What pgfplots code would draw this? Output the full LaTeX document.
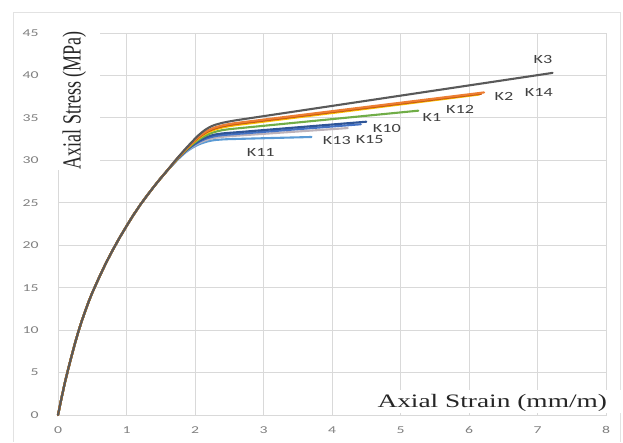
\documentclass[border=0pt]{standalone}
\usepackage{fontspec}
\setmainfont{Carlito}
\newfontfamily\timesf{Liberation Serif}
\usepackage{graphicx}
\usepackage{pgfplots}
\pgfplotsset{compat=1.18}
\definecolor{gridc}{HTML}{D9D9D9}
\definecolor{framec}{HTML}{E2E2E2}
\definecolor{tickc}{HTML}{7F7F7F}
\definecolor{labc}{HTML}{404040}
\definecolor{cK1}{HTML}{70AD47}
\definecolor{cK2}{HTML}{ED7D31}
\definecolor{cK3}{HTML}{595959}
\definecolor{cK10}{HTML}{2F5597}
\definecolor{cK11}{HTML}{5B9BD5}
\definecolor{cK12}{HTML}{C55A11}
\definecolor{cK13}{HTML}{BDB3BA}
\definecolor{cK14}{HTML}{FFC000}
\definecolor{cK15}{HTML}{4472C4}
\begin{document}
\begin{tikzpicture}
\useasboundingbox (0,0) rectangle (623pt,442pt);
\draw[framec, line width=0.6pt] (13pt,0pt) -- (13pt,430pt) -- (620pt,430pt) -- (620pt,0pt);
\begin{axis}[
  at={(58pt,27pt)}, anchor=south west, scale only axis,
  width=548pt, height=382pt,
  xmin=0, xmax=8, ymin=0, ymax=45,
  xtick={0,1,...,8}, ytick={0,5,...,45},
  grid=major,
  major grid style={gridc, line width=0.8pt},
  axis line style={gridc, line width=0.8pt},
  tick style={draw=none},
  /pgf/number format/assume math mode=true,
  tick label style={font=\fontsize{10.5}{10.5}\selectfont, text=tickc, xscale=1.5},
  yticklabel shift=14pt,
  xticklabel shift=8pt,
  clip=false,
  every axis plot post/.append style={line width=2.1pt, mark=none, line join=round, line cap=round},
]
\fill[white] (axis cs:-0.12,28.9) rectangle (axis cs:0.62,45.6);
\fill[white] (axis cs:4.35,0.25) rectangle (axis cs:8.3,3.0);

\addplot[cK11] coordinates {(0,0)(0.05,1.95)(0.1,3.8)(0.15,5.45)(0.2,7.0)(0.25,8.5)(0.3,9.9)(0.35,11.15)(0.4,12.3)(0.45,13.4)(0.5,14.4)(0.6,16.2)(0.7,17.9)(0.8,19.45)(0.9,20.9)(1.0,22.25)(1.1,23.55)(1.2,24.75)(1.3,25.85)(1.4,26.9)(1.5,27.9)(1.6,28.85)
 (1.7,29.7)(1.75,30.12)(1.8,30.5)(1.85,30.85)(1.9,31.16)(1.95,31.43)(2.0,31.66)(2.05,31.86)(2.1,32.02)(2.15,32.15)(2.2,32.26)(2.25,32.34)(2.3,32.4)(2.4,32.46)(2.5,32.5)(2.6,32.52)(3.7,32.75)};
\addplot[cK13] coordinates {(0,0)(0.05,1.95)(0.1,3.8)(0.15,5.45)(0.2,7.0)(0.25,8.5)(0.3,9.9)(0.35,11.15)(0.4,12.3)(0.45,13.4)(0.5,14.4)(0.6,16.2)(0.7,17.9)(0.8,19.45)(0.9,20.9)(1.0,22.25)(1.1,23.55)(1.2,24.75)(1.3,25.85)(1.4,26.9)(1.5,27.9)(1.6,28.85)
 (1.7,29.72)(1.75,30.15)(1.8,30.55)(1.85,30.91)(1.9,31.24)(1.95,31.53)(2.0,31.78)(2.05,32.0)(2.1,32.19)(2.15,32.35)(2.2,32.48)(2.25,32.58)(2.3,32.66)(2.4,32.77)(2.5,32.84)(2.6,32.9)(4.23,33.8)};
\addplot[cK15] coordinates {(0,0)(0.05,1.95)(0.1,3.8)(0.15,5.45)(0.2,7.0)(0.25,8.5)(0.3,9.9)(0.35,11.15)(0.4,12.3)(0.45,13.4)(0.5,14.4)(0.6,16.2)(0.7,17.9)(0.8,19.45)(0.9,20.9)(1.0,22.25)(1.1,23.55)(1.2,24.75)(1.3,25.85)(1.4,26.9)(1.5,27.9)(1.6,28.85)
 (1.7,29.74)(1.75,30.18)(1.8,30.59)(1.85,30.97)(1.9,31.31)(1.95,31.62)(2.0,31.89)(2.05,32.13)(2.1,32.34)(2.15,32.52)(2.2,32.66)(2.25,32.77)(2.3,32.86)(2.4,32.97)(2.5,33.04)(2.6,33.1)(4.42,34.25)};
\addplot[cK10] coordinates {(0,0)(0.05,1.95)(0.1,3.8)(0.15,5.45)(0.2,7.0)(0.25,8.5)(0.3,9.9)(0.35,11.15)(0.4,12.3)(0.45,13.4)(0.5,14.4)(0.6,16.2)(0.7,17.9)(0.8,19.45)(0.9,20.9)(1.0,22.25)(1.1,23.55)(1.2,24.75)(1.3,25.85)(1.4,26.9)(1.5,27.9)(1.6,28.85)
 (1.7,29.76)(1.75,30.21)(1.8,30.63)(1.85,31.02)(1.9,31.37)(1.95,31.69)(2.0,31.98)(2.05,32.24)(2.1,32.47)(2.15,32.66)(2.2,32.82)(2.25,32.95)(2.3,33.05)(2.4,33.17)(2.5,33.24)(2.6,33.3)(4.5,34.55)};
\addplot[cK1] coordinates {(0,0)(0.05,1.95)(0.1,3.8)(0.15,5.45)(0.2,7.0)(0.25,8.5)(0.3,9.9)(0.35,11.15)(0.4,12.3)(0.45,13.4)(0.5,14.4)(0.6,16.2)(0.7,17.9)(0.8,19.45)(0.9,20.9)(1.0,22.25)(1.1,23.55)(1.2,24.75)(1.3,25.85)(1.4,26.9)(1.5,27.9)(1.6,28.85)
 (1.7,29.78)(1.75,30.24)(1.8,30.67)(1.85,31.07)(1.9,31.45)(1.95,31.8)(2.0,32.12)(2.05,32.41)(2.1,32.67)(2.15,32.89)(2.2,33.08)(2.25,33.24)(2.3,33.37)(2.4,33.56)(2.5,33.67)(2.6,33.75)(5.26,35.85)};
\addplot[cK14] coordinates {(0,0)(0.05,1.95)(0.1,3.8)(0.15,5.45)(0.2,7.0)(0.25,8.5)(0.3,9.9)(0.35,11.15)(0.4,12.3)(0.45,13.4)(0.5,14.4)(0.6,16.2)(0.7,17.9)(0.8,19.45)(0.9,20.9)(1.0,22.25)(1.1,23.55)(1.2,24.75)(1.3,25.85)(1.4,26.9)(1.5,27.9)(1.6,28.85)
 (1.7,29.8)(1.75,30.27)(1.8,30.71)(1.85,31.13)(1.9,31.53)(1.95,31.91)(2.0,32.26)(2.05,32.58)(2.1,32.87)(2.15,33.12)(2.2,33.33)(2.25,33.5)(2.3,33.65)(2.4,33.87)(2.5,34.02)(2.6,34.15)(6.15,37.75)};
\addplot[cK12] coordinates {(0,0)(0.05,1.95)(0.1,3.8)(0.15,5.45)(0.2,7.0)(0.25,8.5)(0.3,9.9)(0.35,11.15)(0.4,12.3)(0.45,13.4)(0.5,14.4)(0.6,16.2)(0.7,17.9)(0.8,19.45)(0.9,20.9)(1.0,22.25)(1.1,23.55)(1.2,24.75)(1.3,25.85)(1.4,26.9)(1.5,27.9)(1.6,28.85)
 (1.7,29.82)(1.75,30.29)(1.8,30.74)(1.85,31.17)(1.9,31.58)(1.95,31.97)(2.0,32.33)(2.05,32.67)(2.1,32.97)(2.15,33.23)(2.2,33.45)(2.25,33.63)(2.3,33.78)(2.4,34.0)(2.5,34.16)(2.6,34.28)(6.18,37.85)};
\addplot[cK2] coordinates {(0,0)(0.05,1.95)(0.1,3.8)(0.15,5.45)(0.2,7.0)(0.25,8.5)(0.3,9.9)(0.35,11.15)(0.4,12.3)(0.45,13.4)(0.5,14.4)(0.6,16.2)(0.7,17.9)(0.8,19.45)(0.9,20.9)(1.0,22.25)(1.1,23.55)(1.2,24.75)(1.3,25.85)(1.4,26.9)(1.5,27.9)(1.6,28.85)
 (1.7,29.84)(1.75,30.31)(1.8,30.76)(1.85,31.2)(1.9,31.62)(1.95,32.02)(2.0,32.4)(2.05,32.75)(2.1,33.06)(2.15,33.33)(2.2,33.56)(2.25,33.75)(2.3,33.9)(2.4,34.12)(2.5,34.28)(2.6,34.4)(6.22,38.0)};
\addplot[cK3] coordinates {(0,0)(0.05,1.95)(0.1,3.8)(0.15,5.45)(0.2,7.0)(0.25,8.5)(0.3,9.9)(0.35,11.15)(0.4,12.3)(0.45,13.4)(0.5,14.4)(0.6,16.2)(0.7,17.9)(0.8,19.45)(0.9,20.9)(1.0,22.25)(1.1,23.55)(1.2,24.75)(1.3,25.85)(1.4,26.9)(1.5,27.9)(1.6,28.85)
 (1.7,29.86)(1.75,30.34)(1.8,30.8)(1.85,31.26)(1.9,31.7)(1.95,32.13)(2.0,32.55)(2.05,32.95)(2.1,33.3)(2.15,33.6)(2.2,33.85)(2.25,34.05)(2.3,34.2)(2.4,34.42)(2.5,34.58)(2.6,34.72)(7.22,40.3)};

\begin{scope}[every node/.style={font=\fontsize{12.5}{12.5}\selectfont, text=labc, xscale=1.45, inner sep=0pt}]
\node at (axis cs:7.08,41.9) {K3};
\node at (axis cs:6.51,37.5) {K2};
\node at (axis cs:7.02,37.95) {K14};
\node at (axis cs:5.87,36.0) {K12};
\node at (axis cs:5.46,35.0) {K1};
\node at (axis cs:4.80,33.8) {K10};
\node at (axis cs:4.07,32.3) {K13};
\node at (axis cs:4.55,32.4) {K15};
\node at (axis cs:2.96,30.9) {K11};
\end{scope}

\node[font=\timesf\fontsize{19}{19}\selectfont, text=black!85, xscale=1.44, inner sep=0pt] at (axis cs:6.34,1.45) {Axial Strain (mm/m)};
\node[text=black!85, inner sep=0pt] at (axis cs:0.24,37.1) {\rotatebox{90}{\scalebox{1}[1.45]{\timesf\fontsize{18}{18}\selectfont Axial Stress (MPa)}}};
\end{axis}
\end{tikzpicture}
\end{document}
